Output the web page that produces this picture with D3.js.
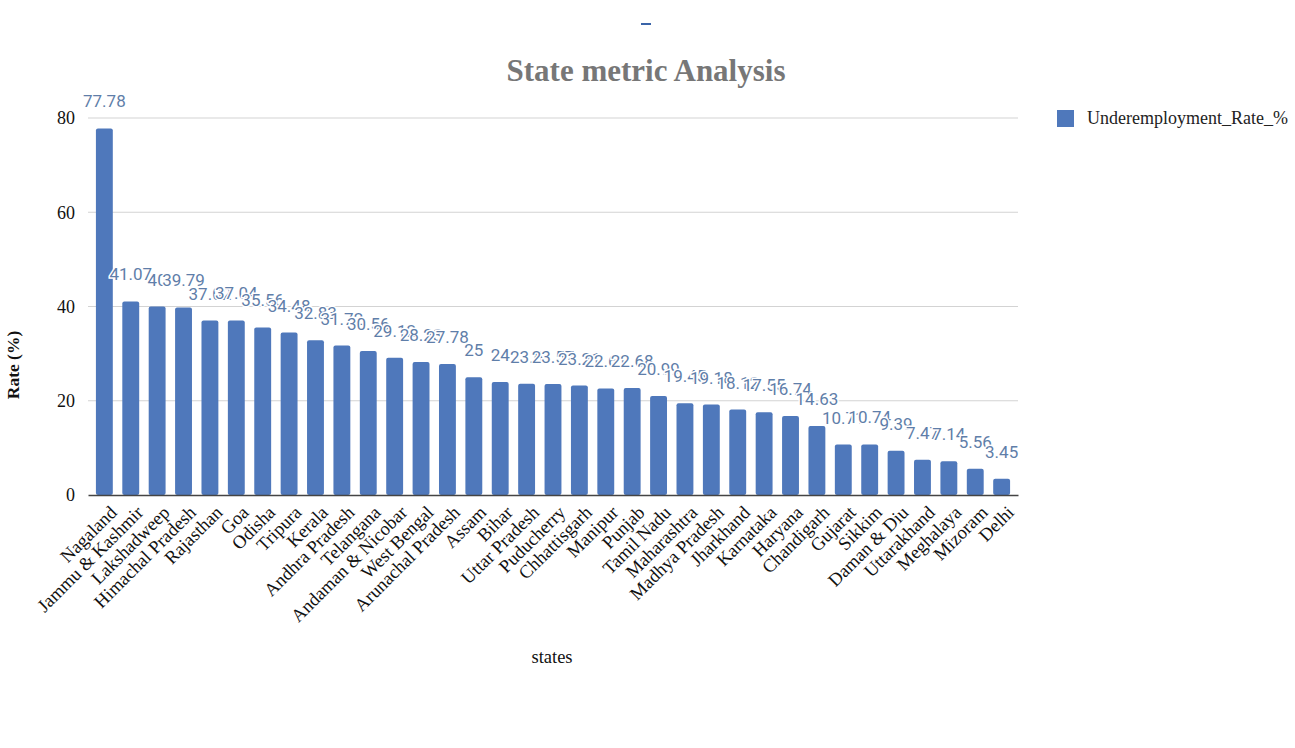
<!DOCTYPE html>
<html>
<head>
<meta charset="utf-8">
<script src="https://cdn.jsdelivr.net/npm/d3@7"></script>
<style>
  body { margin: 0; background: #fff; }
</style>
</head>
<body>
<div id="chart"></div>
<script>
"use strict";

const WIDTH = 1295, HEIGHT = 748;

var states = ["Nagaland", "Jammu & Kashmir", "Lakshadweep", "Himachal Pradesh", "Rajasthan",
  "Goa", "Odisha", "Tripura", "Kerala", "Andhra Pradesh", "Telangana", "Andaman & Nicobar",
  "West Bengal", "Arunachal Pradesh", "Assam", "Bihar", "Uttar Pradesh", "Puducherry",
  "Chhattisgarh", "Manipur", "Punjab", "Tamil Nadu", "Maharashtra", "Madhya Pradesh",
  "Jharkhand", "Karnataka", "Haryana", "Chandigarh", "Gujarat", "Sikkim", "Daman & Diu",
  "Uttarakhand", "Meghalaya", "Mizoram", "Delhi"];
var underemploymentRate = [77.78, 41.07, 40, 39.79, 37.02, 37.04, 35.56, 34.48, 32.83, 31.72,
  30.56, 29.12, 28.23, 27.78, 25, 24, 23.6, 23.57, 23.21, 22.61, 22.68, 20.99, 19.45,
  19.18, 18.12, 17.55, 16.74, 14.63, 10.71, 10.74, 9.39, 7.47, 7.14, 5.56, 3.45];
var yTicks = [0, 20, 40, 60, 80];

var BLUE = "#4f78bb";

var svg = d3.select("#chart").append("svg")
  .attr("width", WIDTH)
  .attr("height", HEIGHT);

var data = states.map(function (s, i) { return { state: s, value: underemploymentRate[i] }; });

var xScale = d3.scaleBand()
  .domain(states)
  .range([88, 1018])
  .paddingInner(0.36)
  .paddingOuter(0.3);
var yScale = d3.scaleLinear()
  .domain([0, 80])
  .range([495, 118]);

// little dash at the top
svg.append("rect")
  .attr("x", 641).attr("y", 23)
  .attr("width", 10).attr("height", 2)
  .attr("fill", "#3a64a8");

// title
svg.append("text")
  .attr("x", 646).attr("y", 81)
  .attr("text-anchor", "middle")
  .attr("font-family", "Liberation Serif, serif")
  .attr("font-weight", "bold")
  .attr("font-size", 31)
  .attr("fill", "#777")
  .text("State metric Analysis");

// gridlines
svg.append("g")
  .selectAll("line")
  .data(yTicks.filter(function (d) { return d > 0; }))
  .join("line")
  .attr("x1", 88).attr("x2", 1018)
  .attr("y1", function (d) { return yScale(d); })
  .attr("y2", function (d) { return yScale(d); })
  .attr("stroke", "#d3d3d3")
  .attr("stroke-width", 1);

// y axis
var yAxis = svg.append("g")
  .attr("transform", "translate(88,0)")
  .call(d3.axisLeft(yScale).tickValues(yTicks).tickSize(0).tickPadding(13));
yAxis.select(".domain").remove();
yAxis.selectAll("text")
  .attr("font-family", "Liberation Serif, serif")
  .attr("font-size", 18)
  .attr("fill", "#111");

// bars
svg.append("g")
  .selectAll("rect")
  .data(data)
  .join("rect")
  .attr("x", function (d) { return xScale(d.state); })
  .attr("y", function (d) { return yScale(d.value); })
  .attr("width", xScale.bandwidth())
  .attr("height", function (d) { return yScale(0) - yScale(d.value); })
  .attr("rx", 2)
  .attr("fill", BLUE);

// x axis
var xAxis = svg.append("g")
  .attr("transform", "translate(0,495)")
  .call(d3.axisBottom(xScale).tickSize(0).tickPadding(0));
xAxis.select(".domain")
  .attr("stroke", "#444")
  .attr("stroke-width", 1.5);
xAxis.selectAll("text")
  .attr("font-family", "Liberation Serif, serif")
  .attr("font-size", 18.5)
  .attr("fill", "#111")
  .attr("text-anchor", "end")
  .attr("x", 0).attr("y", 0)
  .attr("dy", "0.35em")
  .attr("transform", "translate(9,14) rotate(-45)");

// value labels (later ones drawn over earlier ones, white halo)
svg.append("g")
  .selectAll("text")
  .data(data)
  .join("text")
  .attr("x", function (d) { return xScale(d.state) + xScale.bandwidth() / 2; })
  .attr("y", function (d) { return yScale(d.value) - 21; })
  .attr("text-anchor", "middle")
  .attr("font-family", "Roboto, sans-serif")
  .attr("font-size", 17)
  .attr("fill", "#5f7ea9")
  .attr("stroke", "#fff")
  .attr("stroke-width", 3)
  .attr("paint-order", "stroke")
  .text(function (d) { return d.value; });

// axis titles
svg.append("text")
  .attr("transform", "translate(19,365) rotate(-90)")
  .attr("text-anchor", "middle")
  .attr("font-family", "Liberation Serif, serif")
  .attr("font-weight", "bold")
  .attr("font-size", 17.5)
  .attr("fill", "#111")
  .text("Rate (%)");

svg.append("text")
  .attr("x", 552).attr("y", 663)
  .attr("text-anchor", "middle")
  .attr("font-family", "Liberation Serif, serif")
  .attr("font-size", 18.5)
  .attr("fill", "#111")
  .text("states");

// legend
var legend = svg.append("g").attr("transform", "translate(1057,110)");
legend.append("rect")
  .attr("width", 17).attr("height", 17)
  .attr("fill", BLUE);
legend.append("text")
  .attr("x", 30).attr("y", 14)
  .attr("font-family", "Liberation Serif, serif")
  .attr("font-size", 18)
  .attr("fill", "#222")
  .text("Underemployment_Rate_%");
</script>
</body>
</html>
